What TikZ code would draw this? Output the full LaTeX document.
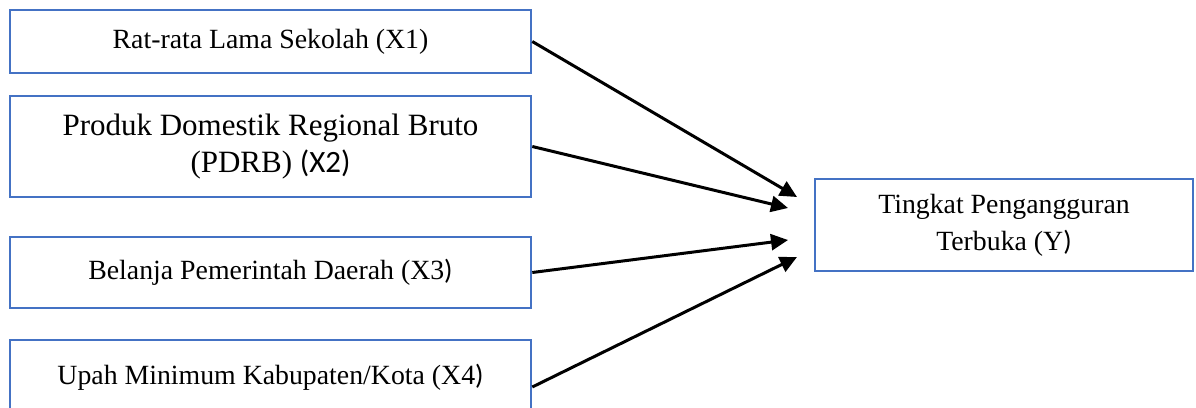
\documentclass[tikz,border=0pt]{standalone}
\usepackage{fontspec}
\setmainfont{Liberation Serif}
\newfontfamily\calib{Carlito}
\usetikzlibrary{arrows.meta, positioning}
\definecolor{wblue}{RGB}{68,114,196}

\begin{document}
\begin{tikzpicture}[x=1pt,y=-1pt,
  box/.style={draw=wblue,line width=2.6pt,inner sep=0pt,minimum width=521pt,
              align=center,font=\fontsize{27.8pt}{37pt}\selectfont},
  arr/.style={-{Triangle[length=17pt,width=16pt]},line width=3pt}
]
\useasboundingbox (0,0) rectangle (1196,407);
\node[box,minimum height=63pt] (x1) at (270.5,41.5) {Rat-rata Lama Sekolah (X1)};
\node[box,minimum height=101pt,font=\fontsize{31pt}{37pt}\selectfont] (x2) at (270.5,146.5)
  {Produk Domestik Regional Bruto\\(PDRB) {\calib (X2)}};
\node[box,minimum height=71pt] (x3) at (270.5,272.5) {Belanja Pemerintah Daerah (X3{\calib )}};
\node[box,minimum height=74pt] (x4) at (270.5,377) {Upah Minimum Kabupaten/Kota (X4{\calib )}};
\node[box,minimum width=378pt,minimum height=92pt] (y) at (1004,225)
  {Tingkat Pengangguran\\Terbuka (Y{\calib )}};
\coordinate (e1) at (797,197);
\coordinate (e2) at (788,208);
\coordinate (e3) at (788,240);
\coordinate (e4) at (797,257);
\draw[arr] (x1.east)--(e1); \draw[arr] (x2.east)--(e2);
\draw[arr] (x3.east)--(e3); \draw[arr] ([yshift=-10pt]x4.east)--(e4);
\end{tikzpicture}
\end{document}
